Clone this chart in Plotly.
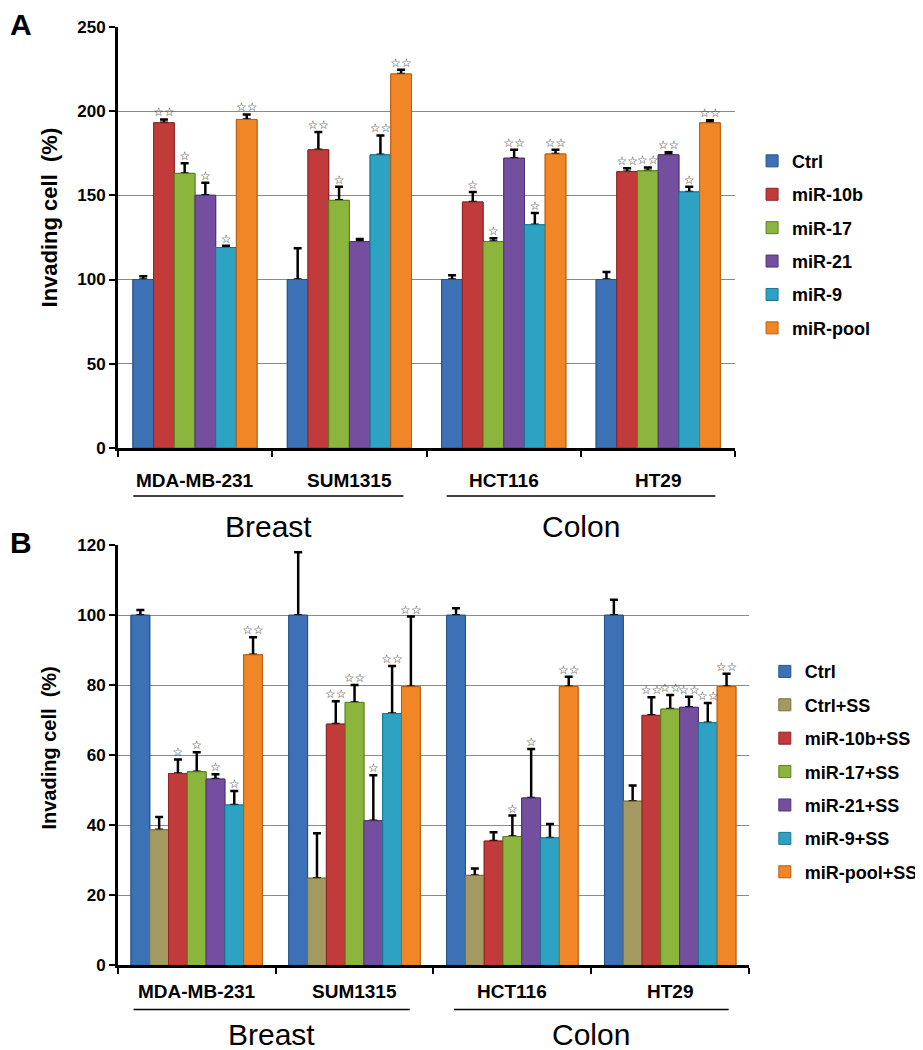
import plotly.graph_objects as go

# page body has an 8px margin; work in reference pixel coordinates and shift
OFF = 8
W, H = 923 - OFF, 1050 - OFF

def px(x):
    return (x - OFF) / W

def py(y):
    return 1 - (y - OFF) / H

categories = ["MDA-MB-231", "SUM1315", "HCT116", "HT29"]
tissues = ["Breast", "Colon"]

# Panel A
series_a = ["Ctrl", "miR-10b", "miR-17", "miR-21", "miR-9", "miR-pool"]
vals_a = {
    "Ctrl":     [100, 100, 100, 100],
    "miR-10b":  [193, 177, 146, 164],
    "miR-17":   [163, 147, 122.5, 164.5],
    "miR-21":   [150, 122.5, 172, 174],
    "miR-9":    [119, 174, 132.5, 152],
    "miR-pool": [195, 222, 174.5, 193],
}
err_a = {
    "Ctrl":     [2, 18.5, 2.5, 4.5],
    "miR-10b":  [2, 10.5, 6, 2],
    "miR-17":   [6, 8, 2, 2],
    "miR-21":   [7.5, 1.5, 5, 1.5],
    "miR-9":    [1, 11.5, 7, 3],
    "miR-pool": [3, 2.5, 2.5, 1.5],
}
sig_a = {
    "Ctrl":     ["", "", "", ""],
    "miR-10b":  ["**", "**", "*", "**"],
    "miR-17":   ["*", "*", "*", "**"],
    "miR-21":   ["*", "", "**", "**"],
    "miR-9":    ["*", "**", "*", "*"],
    "miR-pool": ["**", "**", "**", "**"],
}

# Panel B
series_b = ["Ctrl", "Ctrl+SS", "miR-10b+SS", "miR-17+SS", "miR-21+SS", "miR-9+SS", "miR-pool+SS"]
vals_b = {
    "Ctrl":        [100, 100, 100, 100],
    "Ctrl+SS":     [38.7, 24.9, 25.7, 46.9],
    "miR-10b+SS":  [54.8, 68.9, 35.5, 71.4],
    "miR-17+SS":   [55.3, 75.1, 36.8, 73.2],
    "miR-21+SS":   [53.2, 41.3, 47.8, 73.7],
    "miR-9+SS":    [45.8, 71.9, 36.4, 69.3],
    "miR-pool+SS": [88.7, 79.6, 79.6, 79.6],
}
err_b = {
    "Ctrl":        [1.5, 18, 2, 4.4],
    "Ctrl+SS":     [3.7, 12.8, 2, 4.5],
    "miR-10b+SS":  [4, 6.5, 2.5, 5.2],
    "miR-17+SS":   [5.6, 5, 6, 4],
    "miR-21+SS":   [1.4, 13, 14, 3],
    "miR-9+SS":    [4, 13.6, 4, 5.6],
    "miR-pool+SS": [5, 20, 2.8, 3.7],
}
sig_b = {
    "Ctrl":        ["", "", "", ""],
    "Ctrl+SS":     ["", "", "", ""],
    "miR-10b+SS":  ["*", "**", "", "**"],
    "miR-17+SS":   ["*", "**", "*", "**"],
    "miR-21+SS":   ["*", "*", "*", "**"],
    "miR-9+SS":    ["*", "**", "", "**"],
    "miR-pool+SS": ["**", "**", "**", "**"],
}

colors_a = ["#3C72B5", "#C23B3B", "#8CB53E", "#744FA0", "#2EA2C3", "#F08625"]
colors_b = ["#3C72B5", "#A39A62", "#C23B3B", "#8CB53E", "#744FA0", "#2EA2C3", "#F08625"]
lines_a = ["#24518A", "#8E2326", "#5E7E24", "#4E3374", "#1B7592", "#B65E12"]
lines_b = ["#24518A", "#77703F", "#8E2326", "#5E7E24", "#4E3374", "#1B7592", "#B65E12"]

fig = go.Figure()

def add_panel(series, vals, errs, sigs, colors, lcolors, bw, xa, ya, legend):
    n = len(series)
    xs_all = {s: [i + (j - (n - 1) / 2) * bw for i in range(len(categories))]
              for j, s in enumerate(series)}
    # error bars (drawn first, then covered at the base by the visible bars)
    for j, s in enumerate(series):
        fig.add_trace(go.Bar(
            x=xs_all[s], y=vals[s], width=bw, showlegend=False, hoverinfo="skip",
            marker=dict(color=colors[j], line=dict(color=lcolors[j], width=1)),
            error_y=dict(type="data", array=errs[s], arrayminus=[0] * len(categories),
                         symmetric=False, color="black", thickness=2.5, width=4),
            xaxis=xa, yaxis=ya,
        ))
    for j, s in enumerate(series):
        fig.add_trace(go.Bar(
            x=xs_all[s], y=vals[s], width=bw, name=s,
            marker=dict(color=colors[j], line=dict(color=lcolors[j], width=1)),
            xaxis=xa, yaxis=ya, legend=legend, legendgroup=legend + s,
        ))
    for j, s in enumerate(series):
        tops = [v + e for v, e in zip(vals[s], errs[s])]
        fig.add_trace(go.Scatter(
            x=xs_all[s], y=tops, mode="text",
            text=[t.replace("*", "\u2606") for t in sigs[s]],
            textposition="top center",
            textfont=dict(size=12, color="#2a2a2a", family="DejaVu Sans"),
            showlegend=False, hoverinfo="skip", cliponaxis=False,
            xaxis=xa, yaxis=ya,
        ))

add_panel(series_a, vals_a, err_a, sig_a, colors_a, lines_a, 0.134, "x", "y", "legend")
add_panel(series_b, vals_b, err_b, sig_b, colors_b, lines_b, 0.119, "x2", "y2", "legend2")

tickfont = dict(family="Liberation Sans", size=17, color="black", weight="bold")
xcommon = dict(range=[-0.5, 3.5], tickvals=[-0.5, 0.5, 1.5, 2.5, 3.5], ticks="outside",
               ticklen=6, tickwidth=2, tickcolor="black", showticklabels=False,
               showline=True, linecolor="black", linewidth=2.5, showgrid=False, zeroline=False)
ycommon = dict(ticks="outside", ticklen=6, tickwidth=2, tickcolor="black",
               showline=True, linecolor="black", linewidth=2.5, showgrid=True,
               gridcolor="#8a8a8a", gridwidth=1, zeroline=False, tickfont=tickfont)

legfont = dict(family="Liberation Sans", size=18, color="black", weight="bold")
fig.update_layout(
    width=W, height=H, autosize=False,
    margin=dict(l=0, r=0, t=0, b=0),
    paper_bgcolor="white", plot_bgcolor="white",
    barmode="overlay",
    xaxis=dict(domain=[px(120), px(750)], anchor="y", **xcommon),
    yaxis=dict(domain=[py(447), py(18)], anchor="x", range=[0, 250], dtick=50, **ycommon),
    xaxis2=dict(domain=[px(120), px(764)], anchor="y2", **xcommon),
    yaxis2=dict(domain=[py(974), py(546)], anchor="x2", range=[0, 120], dtick=20, **ycommon),
    legend=dict(x=px(767), y=py(136), xanchor="left", yanchor="top", font=legfont,
                tracegroupgap=7, bgcolor="rgba(0,0,0,0)", itemclick=False),
    legend2=dict(x=px(780), y=py(656), xanchor="left", yanchor="top", font=legfont,
                 tracegroupgap=7, bgcolor="rgba(0,0,0,0)", itemclick=False),
)

catfont = dict(family="Liberation Sans", size=19, color="black", weight="bold")
tissuefont = dict(family="Liberation Sans", size=30, color="black")
anns = []
shapes = []
for xa, axis_px, offs in (("x", 447, (33, 49, 80)), ("x2", 974, (27, 45, 70))):
    for i, c in enumerate(categories):
        anns.append(dict(x=i, y=py(axis_px + offs[0]), xref=xa, yref="paper", text=c,
                         showarrow=False, font=catfont, xanchor="center", yanchor="middle"))
    for k, (x0, x1) in enumerate([(-0.4, 1.35), (1.63, 3.37)]):
        shapes.append(dict(type="line", xref=xa, yref="paper", x0=x0, x1=x1,
                           y0=py(axis_px + offs[1]), y1=py(axis_px + offs[1]),
                           line=dict(color="black", width=1.5)))
        anns.append(dict(x=(x0 + x1) / 2, y=py(axis_px + offs[2]), xref=xa, yref="paper",
                         text=tissues[k], showarrow=False, font=tissuefont,
                         xanchor="center", yanchor="middle"))

anns.append(dict(x=px(50), y=py(212), xref="paper", yref="paper", text="Invading cell  (%)",
                 textangle=-90, showarrow=False,
                 font=dict(family="Liberation Sans", size=22, color="black", weight="bold"),
                 xanchor="center", yanchor="middle"))
anns.append(dict(x=px(50), y=py(753), xref="paper", yref="paper", text="Invading cell  (%)",
                 textangle=-90, showarrow=False,
                 font=dict(family="Liberation Sans", size=20, color="black", weight="bold"),
                 xanchor="center", yanchor="middle"))
letterfont = dict(family="Liberation Sans", size=30, color="black", weight="bold")
anns.append(dict(x=0, y=py(16), xref="paper", yref="paper", text="A",
                 showarrow=False, font=letterfont, xanchor="left", yanchor="middle"))
anns.append(dict(x=0, y=py(543), xref="paper", yref="paper", text="B",
                 showarrow=False, font=letterfont, xanchor="left", yanchor="middle"))

fig.update_layout(annotations=anns, shapes=shapes)
fig.write_html("out.html")
